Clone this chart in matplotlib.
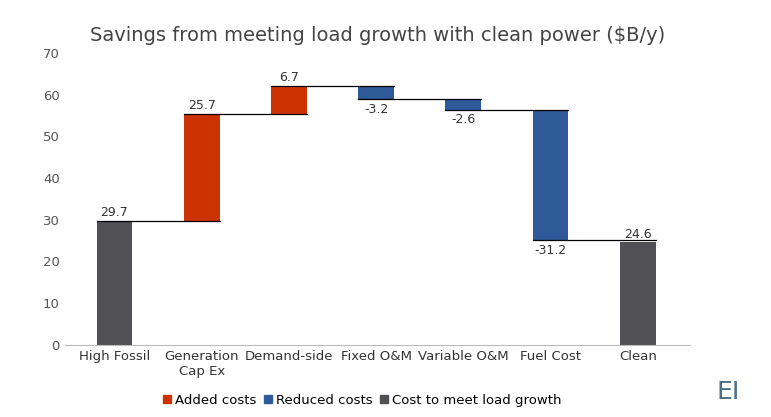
import matplotlib.pyplot as plt
from matplotlib.patches import Patch

categories = ["High Fossil", "Generation\nCap Ex", "Demand-side", "Fixed O&M", "Variable O&M", "Fuel Cost", "Clean"]
values = [29.7, 25.7, 6.7, -3.2, -2.6, -31.2, 24.6]
kinds = ["total", "delta", "delta", "delta", "delta", "delta", "total"]

c_add, c_red, c_tot = "#CC3300", "#2E5B98", "#505055"

fig = plt.figure(figsize=(7.71, 4.17), dpi=100)
ax = fig.add_axes([0.084, 0.173, 0.811, 0.70])
w = 0.41
run = 0
tops = []
for i, (v, k) in enumerate(zip(values, kinds)):
    if k == "total":
        b, h, col = 0, v, c_tot
        run = v
        end = v
    else:
        b = run if v > 0 else run + v
        h = abs(v)
        col = c_add if v > 0 else c_red
        run += v
        end = run
    ax.bar(i, h, bottom=b, width=w, color=col, zorder=2)
    lab = f"{v:.1f}"
    if v > 0:
        ax.text(i, b + h + 0.4, lab, ha="center", va="bottom", fontsize=9, color="#333333")
    else:
        ax.text(i, b - 0.8, lab, ha="center", va="top", fontsize=9, color="#333333")
    tops.append(end)
for i in range(len(values) - 1):
    ax.plot([i - w / 2, i + 1 + w / 2], [tops[i], tops[i]], color="black", lw=0.9, zorder=3)

ax.set_ylim(0, 70)
ax.set_xlim(-0.57, 6.6)
ax.set_yticks(range(0, 71, 10))
ax.set_xticks(range(len(categories)))
ax.set_xticklabels(categories, fontsize=9.5, color="#333333")
ax.tick_params(axis="y", labelsize=9.5, colors="#555555", length=0)
ax.tick_params(axis="x", length=0)
for s in ["top", "right", "left"]:
    ax.spines[s].set_visible(False)
ax.spines["bottom"].set_color("#bbbbbb")

fig.text(0.49, 0.915, "Savings from meeting load growth with clean power ($B/y)",
         ha="center", va="center", fontsize=14, color="#444444")
handles = [Patch(color=c_add, label="Added costs"), Patch(color=c_red, label="Reduced costs"),
           Patch(color=c_tot, label="Cost to meet load growth")]
fig.legend(handles=handles, loc="center", bbox_to_anchor=(0.47, 0.04), ncol=3, frameon=False,
           fontsize=9.5, handlelength=0.6, handleheight=0.6, columnspacing=0.6, handletextpad=0.3)
fig.text(0.945, 0.03, "EI", fontsize=18, color="#4a6f8a", ha="center", va="bottom")
fig.savefig("out.png", dpi=100)
